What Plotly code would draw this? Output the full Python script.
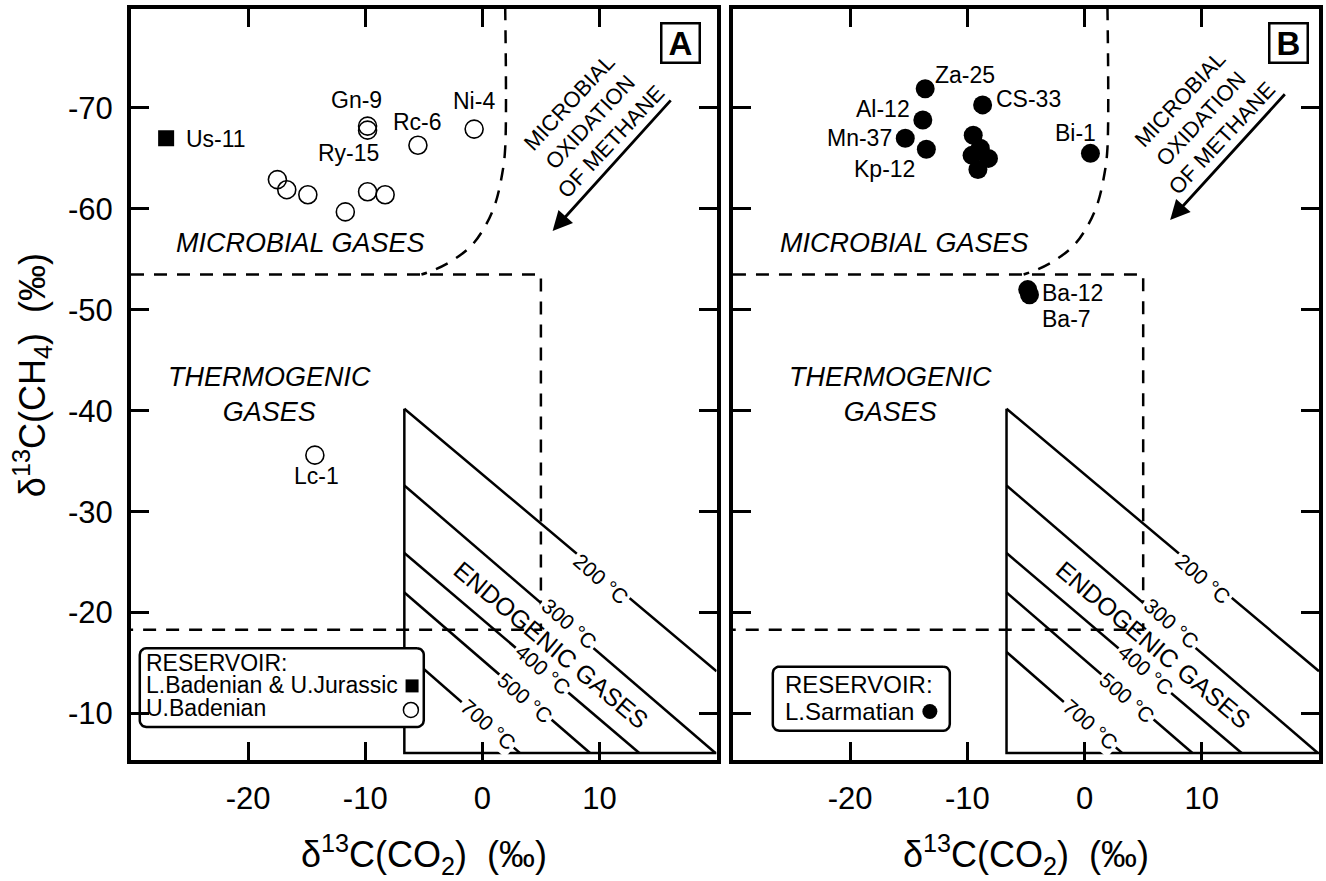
import numpy as np
import plotly.graph_objects as go

FONT = "Liberation Sans, Arial, Helvetica, sans-serif"

# ---- data: panel A (Badenian / Jurassic reservoirs) ----
a_bad_names = ["Gn-9", "Ry-15", "Rc-6", "Ni-4", "", "", "", "", "", "", "Lc-1"]
a_bad_co2 = [-9.8, -9.8, -5.5, -0.7, -17.5, -16.7, -14.9, -11.7, -9.8, -8.3, -14.3]
a_bad_ch4 = [-68.2, -67.8, -66.3, -67.9, -62.9, -61.9, -61.4, -59.7, -61.7, -61.4, -35.6]

a_jur_names = ["Us-11"]
a_jur_co2 = [-27.0]
a_jur_ch4 = [-67.0]

# ---- data: panel B (Sarmatian reservoir) ----
b_sar_names = ["Za-25", "Al-12", "Mn-37", "Kp-12", "CS-33", "", "", "", "", "",
               "Bi-1", "Ba-12", "Ba-7"]
b_sar_co2 = [-13.6, -13.8, -15.3, -13.5, -8.7, -9.5, -9.6, -8.9, -8.2, -9.1,
             0.5, -4.85, -4.7]
b_sar_ch4 = [-71.9, -68.8, -67.0, -65.9, -70.3, -67.3, -65.3, -66.0, -65.0, -63.9,
             -65.5, -52.0, -51.5]

# ---- genetic field boundaries ----
microbial_box_co2 = [-30, 5, 5, -30]
microbial_box_ch4 = [-53.5, -53.5, -18.3, -18.3]
oxid_curve_co2 = [1.95, 1.95, 1.7, 1.1, 0.2, -0.9, -2.4, -4.0, -5.2]
oxid_curve_ch4 = [-80, -66, -63.5, -60.5, -58.2, -56.4, -55.0, -54.0, -53.5]
endo_frame_co2 = [-6.66, -6.66, 20]
endo_frame_ch4 = [-40.2, -6.1, -6.1]
iso_temps = [200, 300, 400, 500, 700]
iso_start_co2 = [-6.66, -6.66, -6.66, -6.66, -6.66]
iso_start_ch4 = [-40.2, -32.6, -25.9, -22.0, -16.1]
iso_end_co2 = [20, 19.9, 13.4, 9.2, 3.2]
iso_end_ch4 = [-14.2, -6.1, -6.1, -6.1, -6.1]
iso_label_co2 = [10.1, 7.4, 5.2, 3.6, 0.5]
iso_label_ch4 = [-23.4, -18.9, -14.4, -11.6, -8.9]

y_ticks = [-70, -60, -50, -40, -30, -20, -10]
x_ticks = [-20, -10, 0, 10]

# label offsets in pixels (dx right, dy down) from the point
label_off = {
    "Us-11": (50, 1), "Gn-9": (-11, -26), "Ry-15": (-19, 23), "Rc-6": (0, -23),
    "Ni-4": (0, -28), "Lc-1": (2, 21),
    "Za-25": (40, -14), "Al-12": (-40, -11), "Mn-37": (-46, 0), "Kp-12": (-42, 20),
    "CS-33": (46, -6), "Bi-1": (-15, -20), "Ba-12": (45, 3), "Ba-7": (37, 24),
}


def rounded_rect(x0, x1, y0, y1, rx, ry, n=8):
    xs, ys = [], []
    corners = [(x1 - rx, y0 + ry, -np.pi / 2, 0), (x1 - rx, y1 - ry, 0, np.pi / 2),
               (x0 + rx, y1 - ry, np.pi / 2, np.pi), (x0 + rx, y0 + ry, np.pi, 1.5 * np.pi)]
    for cx, cy, t0, t1 in corners:
        t = np.linspace(t0, t1, n)
        xs += list(cx + rx * np.cos(t))
        ys += list(cy + ry * np.sin(t))
    xs.append(xs[0])
    ys.append(ys[0])
    return xs, ys


fig = go.Figure()
annos = []

panels = [("x", "y", "A"), ("x2", "y2", "B")]
for xa, ya, tag in panels:
    # boundaries
    fig.add_trace(go.Scatter(x=microbial_box_co2, y=microbial_box_ch4, mode="lines",
                             line=dict(color="black", width=2.5, dash="13px,10px"),
                             xaxis=xa, yaxis=ya, hoverinfo="skip"))
    fig.add_trace(go.Scatter(x=oxid_curve_co2, y=oxid_curve_ch4, mode="lines",
                             line=dict(color="black", width=2.5, dash="13px,10px", shape="spline"),
                             xaxis=xa, yaxis=ya, hoverinfo="skip"))
    fig.add_trace(go.Scatter(x=endo_frame_co2, y=endo_frame_ch4, mode="lines",
                             line=dict(color="black", width=2.5),
                             xaxis=xa, yaxis=ya, hoverinfo="skip"))
    for i in range(len(iso_temps)):
        fig.add_trace(go.Scatter(x=[iso_start_co2[i], iso_end_co2[i]],
                                 y=[iso_start_ch4[i], iso_end_ch4[i]], mode="lines",
                                 line=dict(color="black", width=2.5),
                                 xaxis=xa, yaxis=ya, hoverinfo="skip"))
        annos.append(dict(x=iso_label_co2[i], y=iso_label_ch4[i], xref=xa, yref=ya,
                          text=f"{iso_temps[i]} °C", showarrow=False, textangle=41,
                          font=dict(size=21, family=FONT, color="black"),
                          bgcolor="white", borderpad=2))
    annos.append(dict(x=5.9, y=-16.8, xref=xa, yref=ya, text="ENDOGENIC GASES",
                      showarrow=False, textangle=40,
                      font=dict(size=25, family=FONT, color="black")))

    # region labels
    mg_x, th_x = (-15.5, -18.2) if tag == "A" else (-15.4, -16.6)
    annos.append(dict(x=mg_x, y=-56.6, xref=xa, yref=ya, text="<i>MICROBIAL GASES</i>",
                      showarrow=False, font=dict(size=27, family=FONT, color="black")))
    annos.append(dict(x=th_x, y=-41.6, xref=xa, yref=ya,
                      text="<i>THERMOGENIC</i><br><i>GASES</i>", showarrow=False,
                      font=dict(size=27, family=FONT, color="black")))

    # oxidation arrow + text
    if tag == "A":
        tail, head, tc = (16.2, -70.9), (6.0, -57.8), (9.2, -68.6)
    else:
        tail, head, tc = (17.2, -71.5), (7.3, -58.9), (9.9, -68.9)
    annos.append(dict(x=head[0], y=head[1], ax=tail[0], ay=tail[1], xref=xa, yref=ya,
                      axref=xa, ayref=ya, text="", showarrow=True, arrowhead=2,
                      arrowsize=1.4, arrowwidth=2.8, arrowcolor="black"))
    annos.append(dict(x=tc[0], y=tc[1], xref=xa, yref=ya,
                      text="MICROBIAL<br>OXIDATION<br>OF METHANE", showarrow=False,
                      textangle=-47, font=dict(size=22, family=FONT, color="black")))

    # panel letter
    annos.append(dict(x=16.95 if tag == "A" else 17.4, y=-76.4, xref=xa, yref=ya,
                      text=f"<b>{tag}</b>", showarrow=False, width=32, height=33,
                      font=dict(size=33, family=FONT, color="black"),
                      bordercolor="black", borderwidth=2.5, borderpad=2, bgcolor="white"))

# legend boxes
lx, ly = rounded_rect(-29.25, -5.0, -16.47, -8.68, 0.55, 0.65)
fig.add_trace(go.Scatter(x=lx, y=ly, mode="lines", fill="toself", fillcolor="white",
                         line=dict(color="black", width=2.5), xaxis="x", yaxis="y",
                         hoverinfo="skip"))
lx, ly = rounded_rect(-26.6, -11.5, -14.65, -8.3, 0.55, 0.65)
fig.add_trace(go.Scatter(x=lx, y=ly, mode="lines", fill="toself", fillcolor="white",
                         line=dict(color="black", width=2.5), xaxis="x2", yaxis="y2",
                         hoverinfo="skip"))
for txt, yy in [("RESERVOIR:", -15.05), ("L.Badenian &amp; U.Jurassic", -12.84),
                ("U.Badenian", -10.6)]:
    annos.append(dict(x=-28.85, y=yy, xref="x", yref="y", text=txt, showarrow=False,
                      xanchor="left", font=dict(size=23, family=FONT, color="black")))
for txt, yy in [("RESERVOIR:", -12.84), ("L.Sarmatian", -10.2)]:
    annos.append(dict(x=-25.7, y=yy, xref="x2", yref="y2", text=txt, showarrow=False,
                      xanchor="left", font=dict(size=24, family=FONT, color="black")))
fig.add_trace(go.Scatter(x=[-6.0], y=[-12.74], mode="markers", xaxis="x", yaxis="y",
                         marker=dict(symbol="square", size=13, color="black")))
fig.add_trace(go.Scatter(x=[-6.1], y=[-10.36], mode="markers", xaxis="x", yaxis="y",
                         marker=dict(symbol="circle-open", size=15, color="black",
                                     line=dict(width=1.5))))
fig.add_trace(go.Scatter(x=[-13.2], y=[-10.2], mode="markers", xaxis="x2", yaxis="y2",
                         marker=dict(symbol="circle", size=15, color="black")))

# data points
fig.add_trace(go.Scatter(x=a_bad_co2, y=a_bad_ch4, mode="markers", xaxis="x", yaxis="y",
                         marker=dict(symbol="circle-open", size=18, color="black",
                                     line=dict(width=1.6))))
fig.add_trace(go.Scatter(x=a_jur_co2, y=a_jur_ch4, mode="markers", xaxis="x", yaxis="y",
                         marker=dict(symbol="square", size=16, color="black")))
fig.add_trace(go.Scatter(x=b_sar_co2, y=b_sar_ch4, mode="markers", xaxis="x2", yaxis="y2",
                         marker=dict(symbol="circle", size=19, color="black")))

for names, xs, ys, xa, ya in [(a_bad_names, a_bad_co2, a_bad_ch4, "x", "y"),
                              (a_jur_names, a_jur_co2, a_jur_ch4, "x", "y"),
                              (b_sar_names, b_sar_co2, b_sar_ch4, "x2", "y2")]:
    for n, xv, yv in zip(names, xs, ys):
        if not n:
            continue
        dx, dy = label_off[n]
        annos.append(dict(x=xv, y=yv, xref=xa, yref=ya, text=n, showarrow=False,
                          xshift=dx, yshift=-dy,
                          font=dict(size=23, family=FONT, color="black")))

# axis titles
xt = "δ<sup>13</sup>C(CO<sub>2</sub>)\u00a0\u00a0(‰)"
for cx in [0.2465, 0.7534]:
    annos.append(dict(x=cx, y=-0.126, xref="paper", yref="paper", text=xt,
                      xanchor="center", yanchor="middle",
                      showarrow=False, font=dict(size=36, family=FONT, color="black")))
annos.append(dict(x=-0.083, y=0.513, xref="paper", yref="paper",
                  text="δ<sup>13</sup>C(CH<sub>4</sub>)\u00a0\u00a0(‰)", textangle=-90,
                  xanchor="center", yanchor="middle",
                  showarrow=False, font=dict(size=36, family=FONT, color="black")))

ax_common = dict(showline=True, linewidth=4, linecolor="black", mirror="allticks",
                 ticks="inside", ticklen=18, tickwidth=2.5, tickcolor="black",
                 showgrid=False, zeroline=False,
                 tickfont=dict(size=31, family=FONT, color="black"))
fig.update_layout(
    width=1326, height=881,
    margin=dict(l=131, r=3, t=9, b=121),
    paper_bgcolor="white", plot_bgcolor="white",
    showlegend=False,
    xaxis=dict(domain=[0, 0.4929], range=[-30, 20], tickvals=x_ticks,
               ticktext=[str(v) for v in x_ticks],
               anchor="y", ticklabelstandoff=8, **ax_common),
    xaxis2=dict(domain=[0.5067, 1], range=[-30, 20], tickvals=x_ticks,
                ticktext=[str(v) for v in x_ticks],
                anchor="y2", ticklabelstandoff=8, **ax_common),
    yaxis=dict(domain=[0, 1], range=[-5.4, -79.8], tickvals=y_ticks,
               ticktext=[str(v) for v in y_ticks],
               anchor="x", ticklabelstandoff=8, **ax_common),
    yaxis2=dict(domain=[0, 1], range=[-5.4, -79.8], tickvals=y_ticks,
                anchor="x2", showticklabels=False, **ax_common),
    annotations=annos,
)

fig.write_html("out.html", config={"displayModeBar": False},
               post_script="document.body.style.margin='0';")
